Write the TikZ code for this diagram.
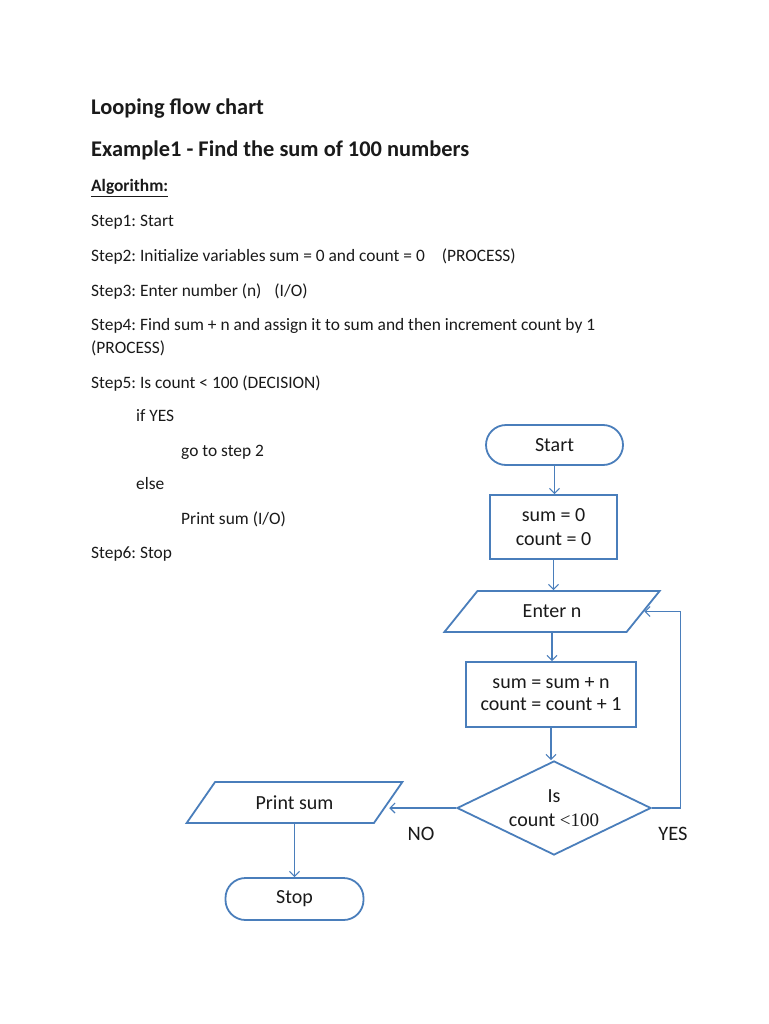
\documentclass[tikz,border=0pt]{standalone}
\usepackage{fontspec}
\setmainfont{Carlito}
\newfontfamily\timesf{Liberation Serif}
\usetikzlibrary{shapes.geometric,arrows.meta}
\definecolor{fcblue}{HTML}{4A7EBB}
\definecolor{txt}{HTML}{1A1A1A}
\frenchspacing
\begin{document}
\begin{tikzpicture}[x=1pt,y=-1pt,
  body/.style={anchor=base west, inner sep=0pt, text=txt, font=\fontsize{17.4}{20}\selectfont},
  h1/.style={anchor=base west, inner sep=0pt, text=txt, font=\fontsize{22.4}{26}\selectfont\bfseries},
  h3/.style={anchor=base west, inner sep=0pt, text=txt, font=\fontsize{17.4}{20}\selectfont\bfseries},
  shp/.style={draw=fcblue, line width=1.8pt, text=txt, align=center, inner sep=0pt,
    font=\fontsize{20}{24}\selectfont},
  term/.style={shp, rectangle, rounded corners=20pt, minimum width=137pt, minimum height=40pt},
  proc/.style={shp, rectangle, minimum width=127pt, minimum height=64pt},
  io/.style={shp, trapezium, trapezium left angle=45, trapezium right angle=135,
    trapezium stretches=true, minimum width=216pt, minimum height=41pt},
  dec/.style={shp, diamond, aspect=1.8, minimum width=194pt, minimum height=94pt},
  arr/.style={draw=fcblue, line width=1.1pt, -{Straight Barb[length=5pt,width=10pt]}},
  lbl/.style={inner sep=0pt, text=txt, font=\fontsize{20.5}{22}\selectfont}
]
\useasboundingbox[fill=white] (0,0) rectangle (768,1024);

% headings and algorithm text
\node[h1] (t1) at (91,115) {Looping flow chart};
\node[h1] (t2) at (91,157) {Example1 - Find the sum of 100 numbers};
\node[h3] (t3) at (91,192) {\underline{Algorithm:}};
\node[body] (s1) at (91,226) {Step1: Start};
\node[body] (s2) at (91,261) {Step2: Initialize variables sum = 0 and count = 0\hspace{17pt}(PROCESS)};
\node[body] (s3) at (91,296) {Step3: Enter number (n)\hspace{13pt}(I/O)};
\node[body] (s4) at (91,330) {Step4: Find sum + n and assign it to sum and then increment count by 1};
\node[body] (s4b) at (91,353) {(PROCESS)};
\node[body] (s5) at (91,388) {Step5: Is count < 100 (DECISION)};
\node[body] (s5a) at (136,421) {if YES};
\node[body] (s5b) at (181,456) {go to step 2};
\node[body] (s5c) at (136,489) {else};
\node[body] (s5d) at (181,524) {Print sum (I/O)};
\node[body] (s6) at (91,558) {Step6: Stop};

% flowchart
\node[term] (start) at (554.5,445) {Start};
\node[proc] (init) at (553.5,527) {sum = 0\\count = 0};
\node[io] (enter) at (552,611.5) {Enter n};
\node[proc, minimum width=170pt, minimum height=65pt, font=\fontsize{20}{22}\selectfont] (upd) at (551,694.5) {sum = sum + n\\count = count + 1};
\node[dec] (dec) at (554,808) {Is\\count {\timesf\fontsize{19}{24}\selectfont<100}};
\node[io] (print) at (294.5,802.5) {Print sum};
\node[term, minimum width=138pt, minimum height=42pt] (stop) at (294.5,899) {Stop};

\draw[arr] (start.south) -- (start.south |- init.north);
\draw[arr] (init.south) -- (init.south |- enter.north);
\draw[arr] (enter.south) -- (enter.south |- upd.north);
\draw[arr] (upd.south) -- (upd.south |- dec.north);
\draw[arr] (dec.east) -- ++(29,0) |- (enter.east);
\draw[arr] (dec.west) -- (dec.west -| print.east);
\draw[arr] (print.south) -- (print.south |- stop.north);

\node[lbl] (no) at (421,834) {NO};
\node[lbl] (yes) at (673,834) {YES};
\end{tikzpicture}
\end{document}
